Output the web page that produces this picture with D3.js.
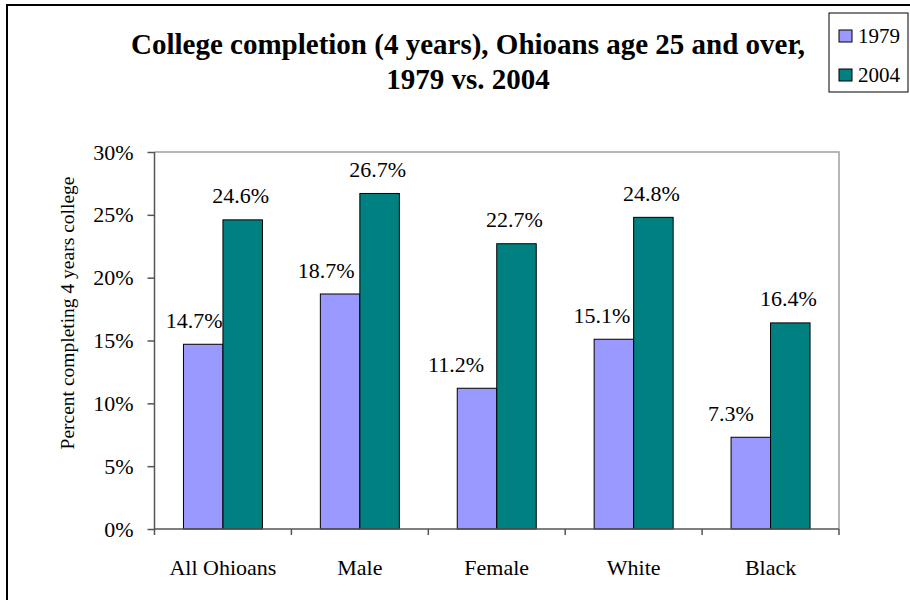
<!DOCTYPE html>
<html><head><meta charset="utf-8">
<script src="https://cdn.jsdelivr.net/npm/d3@7"></script>
<style>body{margin:0;background:#fff}svg{display:block}</style>
</head><body><svg id="c" width="910" height="600"></svg>
<script>
const categories = ["All Ohioans", "Male", "Female", "White", "Black"];
const seriesNames = ["1979", "2004"];
const values1979 = [14.7, 18.7, 11.2, 15.1, 7.3];
const values2004 = [24.6, 26.7, 22.7, 24.8, 16.4];
const yTicks = [0, 5, 10, 15, 20, 25, 30];
const titleLines = ["College completion (4 years), Ohioans age 25 and over,", "1979 vs. 2004"];
const yTitle = "Percent completing 4 years college";

const FONT = '"Liberation Serif", "Times New Roman", serif';
const colors = {"1979": "#9999ff", "2004": "#008080"};
const labelNudge = {"1979": [-9, -14, -21, -12, -20], "2004": [-2, -2, -2, -2, -2]};

const svg = d3.select("#c");
const L = 154.5, R = 839, T = 152, B = 529;

// outer border
svg.append("rect").attr("x", 7).attr("y", 5).attr("width", 1000).attr("height", 1000)
  .attr("fill", "none").attr("stroke", "#000").attr("stroke-width", 2);

const x0 = d3.scaleBand().domain(categories).range([L, R]).paddingInner(0.423).paddingOuter(0.2115);
const x1 = d3.scaleBand().domain(seriesNames).range([0, x0.bandwidth()]);
const y = d3.scaleLinear().domain([0, 30]).range([B, T]);

// plot frame (top/right gray)
svg.append("path").attr("d", `M${L},${T}H${R}V${B}`).attr("fill", "none").attr("stroke", "#a0a0a0").attr("stroke-width", 1.5);

const data = categories.map((c, i) => ({cat: c, i, vals: [{s: "1979", v: values1979[i]}, {s: "2004", v: values2004[i]}]}));

const g = svg.append("g").selectAll("g").data(data).join("g")
  .attr("transform", d => `translate(${x0(d.cat)},0)`);
g.selectAll("rect").data(d => d.vals).join("rect")
  .attr("x", d => x1(d.s)).attr("y", d => y(d.v))
  .attr("width", x1.bandwidth()).attr("height", d => B - y(d.v))
  .attr("fill", d => colors[d.s]).attr("stroke", "#000").attr("stroke-width", 1);
g.selectAll("text").data(d => d.vals.map(o => ({...o, i: d.i}))).join("text")
  .attr("x", d => x1(d.s) + x1.bandwidth() / 2 + labelNudge[d.s][d.i])
  .attr("y", d => y(d.v) - 16.5)
  .attr("text-anchor", "middle").style("font-family", FONT).style("font-size", "22px").attr("fill", "#000")
  .text(d => d.v.toFixed(1) + "%");

// y axis
const yAxis = d3.axisLeft(y).tickValues(yTicks).tickFormat(d => d + "%").tickSize(7).tickPadding(14);
const ya = svg.append("g").attr("transform", `translate(${L},0)`).call(yAxis);
ya.select(".domain").attr("stroke", "#555").attr("stroke-width", 1.5).attr("d", `M0,${T}V${B}`);
ya.selectAll(".tick line").attr("stroke", "#555").attr("stroke-width", 1.5);
ya.selectAll(".tick text").style("font-family", FONT).style("font-size", "22px").attr("fill", "#000");

// x axis
const bounds = categories.map(c => x0(c) - x0.step() * x0.paddingInner() / 2).concat([R]);
const xa = svg.append("g");
xa.append("line").attr("x1", L).attr("x2", R).attr("y1", B).attr("y2", B).attr("stroke", "#555").attr("stroke-width", 1.5);
xa.selectAll(".tk").data(bounds).join("line").attr("class", "tk")
  .attr("x1", d => d).attr("x2", d => d).attr("y1", B).attr("y2", B + 6).attr("stroke", "#555").attr("stroke-width", 1.5);
xa.selectAll("text").data(categories).join("text")
  .attr("x", d => x0(d) + x0.bandwidth() / 2).attr("y", 575)
  .attr("text-anchor", "middle").style("font-family", FONT).style("font-size", "22px").text(d => d);

// y title
svg.append("text").attr("transform", "translate(74,313) rotate(-90)")
  .attr("text-anchor", "middle").style("font-family", FONT).style("font-size", "19.5px").text(yTitle);

// title
svg.append("g").selectAll("text").data(titleLines).join("text")
  .attr("x", 468).attr("y", (d, i) => 54 + i * 35)
  .attr("text-anchor", "middle").style("font-family", FONT).style("font-size", "29px").style("font-weight", "bold").text(d => d);

// legend
const lg = svg.append("g");
lg.append("rect").attr("x", 829).attr("y", 13).attr("width", 79).attr("height", 79)
  .attr("fill", "#fff").attr("stroke", "#000").attr("stroke-width", 1);
seriesNames.forEach((s, i) => {
  const cy = 36 + i * 39;
  lg.append("rect").attr("x", 839).attr("y", cy - 6).attr("width", 13).attr("height", 12)
    .attr("fill", colors[s]).attr("stroke", "#000").attr("stroke-width", 1);
  lg.append("text").attr("x", 858).attr("y", cy + 7).style("font-family", FONT).style("font-size", "21px").text(s);
});
</script></body></html>
